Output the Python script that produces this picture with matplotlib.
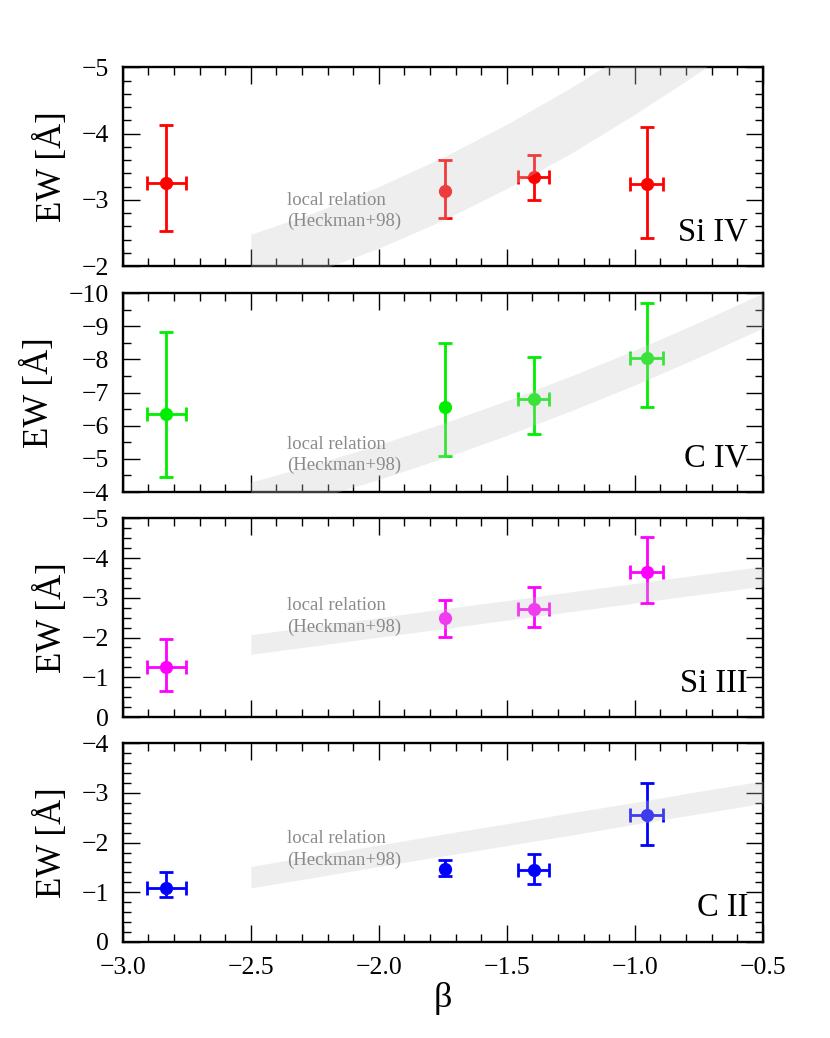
import numpy as np
import matplotlib
matplotlib.use('Agg')
import matplotlib.pyplot as plt
from matplotlib.ticker import MultipleLocator

matplotlib.rcParams.update({'font.family': ['Liberation Serif', 'DejaVu Serif'],
                            'font.size': 16,
                            'xtick.direction': 'in', 'ytick.direction': 'in',
                            'xtick.top': True, 'ytick.right': True})

# Data (beta, EW and errors)
beta = [-2.83, -1.74, -1.395, -0.953]
beta_err = [0.075, 0.0, 0.06, 0.065]

ions = ['Si IV', 'C IV', 'Si III', 'C II']
colors = ['#ff0000', '#00ee00', '#ff00ff', '#0000ff']

ew_siiv = [-3.25, -3.14, -3.35, -3.24]
lo_siiv = [-2.53, -2.72, -2.99, -2.43]
hi_siiv = [-4.13, -3.60, -3.68, -4.10]

ew_civ = [-6.35, -6.57, -6.82, -8.05]
lo_civ = [-4.46, -5.09, -5.75, -6.57]
hi_civ = [-8.84, -8.51, -8.08, -9.72]

ew_siiii = [-1.25, -2.49, -2.72, -3.64]
lo_siiii = [-0.66, -2.01, -2.27, -2.87]
hi_siiii = [-1.96, -2.95, -3.26, -4.53]

ew_cii = [-1.08, -1.46, -1.45, -2.55]
lo_cii = [-0.90, -1.32, -1.16, -1.96]
hi_cii = [-1.40, -1.65, -1.77, -3.19]

# local relation band (Heckman+98), edges
band_x = [-2.5, -2.25, -2.0, -1.75, -1.5, -1.25, -1.0, -0.75, -0.5]
band_siiv_a = [-2.48, -2.81, -3.20, -3.64, -4.14, -4.69, -5.30, -5.96, -6.68]
band_siiv_b = [-1.60, -1.91, -2.27, -2.69, -3.17, -3.70, -4.29, -4.92, -5.62]
band_civ_a = [-4.30, -4.84, -5.43, -6.07, -6.76, -7.50, -8.28, -9.12, -10.0]
band_civ_b = [-3.25, -3.79, -4.38, -5.02, -5.71, -6.45, -7.23, -8.07, -8.95]
band_siiii_a = [-2.07, -2.29, -2.50, -2.72, -2.93, -3.15, -3.36, -3.58, -3.79]
band_siiii_b = [-1.58, -1.79, -2.01, -2.22, -2.44, -2.65, -2.87, -3.08, -3.29]
band_cii_a = [-1.52, -1.74, -1.95, -2.17, -2.38, -2.60, -2.81, -3.03, -3.24]
band_cii_b = [-1.09, -1.30, -1.52, -1.73, -1.94, -2.15, -2.37, -2.58, -2.79]

ews = [ew_siiv, ew_civ, ew_siiii, ew_cii]
los = [lo_siiv, lo_civ, lo_siiii, lo_cii]
his = [hi_siiv, hi_civ, hi_siiii, hi_cii]
bands = [(band_siiv_a, band_siiv_b), (band_civ_a, band_civ_b),
         (band_siiii_a, band_siiii_b), (band_cii_a, band_cii_b)]

ylims = [(-2, -5), (-4, -10), (0, -5), (0, -4)]
ymin = [0.2, 0.5, 0.25, 0.2]
text_y = [-2.83, -5.12, -2.53, -1.86]

fig = plt.figure(figsize=(8.3, 10.38), dpi=100)
bottoms = [0.7437, 0.526, 0.3092, 0.0925]

for i in range(4):
    ax = fig.add_axes([0.148, bottoms[i], 0.771, 0.1915])
    y = np.array(ews[i])
    # values are negative: the "lower" bar goes toward the more negative limit
    yerr = [y - np.array(his[i]), np.array(los[i]) - y]
    ax.errorbar(beta, y, xerr=beta_err, yerr=yerr, fmt='o', color=colors[i],
                ms=8.5, elinewidth=2, capsize=5, capthick=2, zorder=2)
    ax.fill_between(band_x, bands[i][0], bands[i][1], color='#c8c8c8', alpha=0.3,
                    lw=0, zorder=3)
    ax.text(-2.36, text_y[i], 'local relation\n(Heckman+98)', color='#8a8a8a',
            fontsize=13.5, ha='left', va='center', linespacing=1.3)
    ax.text(0.977, 0.17, ions[i], transform=ax.transAxes, ha='right', va='center',
            fontsize=23.5)
    ax.set_xlim(-3.0, -0.5)
    ax.set_ylim(*ylims[i])
    ax.xaxis.set_major_locator(MultipleLocator(0.5))
    ax.xaxis.set_minor_locator(MultipleLocator(0.1))
    ax.yaxis.set_major_locator(MultipleLocator(1))
    ax.yaxis.set_minor_locator(MultipleLocator(ymin[i]))
    ax.tick_params(which='major', length=12, width=1, labelsize=18.5)
    ax.tick_params(which='minor', length=6, width=1)
    ax.tick_params(axis='y', pad=10)
    ax.tick_params(axis='x', pad=11)
    ax.tick_params(which='both', top=True, right=True)
    for s in ax.spines.values():
        s.set_linewidth(1.7)
    ax.set_ylabel('EW [Å]', fontsize=25, labelpad=9)
    if i < 3:
        ax.set_xticklabels([])
    else:
        ax.set_xlabel('β', fontsize=26, labelpad=2)

plt.savefig('out.png', dpi=100)
